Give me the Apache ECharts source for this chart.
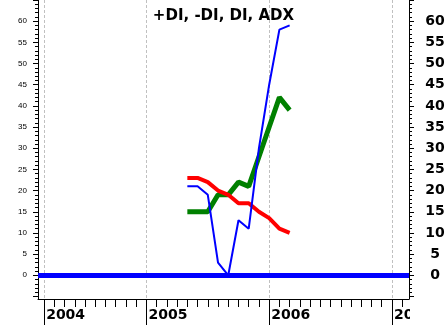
<!DOCTYPE html>
<html><head><meta charset="utf-8">
<script src="https://cdn.jsdelivr.net/npm/echarts@6/dist/echarts.min.js"></script>
<style>html,body{margin:0;padding:0;background:#fff}#c{width:447px;height:325px}</style>
</head><body><div id="c"></div>
<script>
// x values: months since January 2005
const months = [4, 5, 6, 7, 8, 9, 10, 11, 12, 13, 14];
const diValues = [21, 21, 19, 3, 0, 13, 11, 30, 45, 58, 59];
const minusDiValues = [23, 23, 22, 20, 19, 17, 17, 15, 13.5, 11, 10];
const adxValues = [15, 15, 15, 19, 19, 22, 21, 28, 35, 42, 39];
const plusDiLevel = 0;

const yearTicks = [-10, 0, 12, 24];
const yearLabels = ['2004', '2005', '2006', '2007'];
const monthTicks = [];
for (let m = -10; m <= 25; m++) monthTicks.push(m);
const yMajorTicks = [-5, 0, 5, 10, 15, 20, 25, 30, 35, 40, 45, 50, 55, 60, 65];
const yLabels = [0, 5, 10, 15, 20, 25, 30, 35, 40, 45, 50, 55, 60];
const yMinorTicks = [];
for (let v = -5; v <= 65; v++) yMinorTicks.push(v);

const X_MIN = -10.6, X_MAX = 25.67, Y_MIN = -5.6, Y_MAX = 65;

const zip = (xs, ys) => xs.map((x, i) => [x, ys[i]]);
const black = '#000';

const chart = echarts.init(document.getElementById('c'), null, {renderer: 'canvas'});
chart.setOption({
  animation: false,
  backgroundColor: '#fff',
  title: {
    text: '+DI, -DI, DI, ADX', left: 'center', top: 4,
    textStyle: {fontFamily: 'DejaVu Sans', fontWeight: 'bold', fontSize: 15, color: black}
  },
  grid: {left: 38, right: 38, top: 0, bottom: 26, outerBoundsMode: 'none'},
  xAxis: [
    {
      type: 'value', min: X_MIN, max: X_MAX, position: 'bottom',
      axisLine: {onZero: false, lineStyle: {color: black, width: 1}},
      axisTick: {customValues: monthTicks, length: 8, lineStyle: {color: black}},
      axisLabel: {show: false}, splitLine: {show: false}
    },
    {
      type: 'value', min: X_MIN, max: X_MAX, position: 'bottom',
      axisLine: {show: false, onZero: false},
      axisTick: {customValues: yearTicks, length: 26, lineStyle: {color: black}},
      axisLabel: {
        customValues: yearTicks, formatter: v => yearLabels[yearTicks.indexOf(v)],
        align: 'left', margin: 9, padding: [0, 0, 0, 2],
        fontFamily: 'DejaVu Sans', fontWeight: 'bold', fontSize: 14, color: black
      },
      splitLine: {show: true, lineStyle: {color: '#c0c0c0', width: 1, type: [3, 2]}}
    }
  ],
  yAxis: [
    {
      type: 'value', min: Y_MIN, max: Y_MAX, position: 'left',
      axisLine: {show: true, onZero: false, lineStyle: {color: black}},
      axisTick: {show: true, customValues: yMinorTicks, length: 3, lineStyle: {color: black}},
      axisLabel: {show: false}, splitLine: {show: false}
    },
    {
      type: 'value', min: Y_MIN, max: Y_MAX, position: 'left',
      axisLine: {show: false, onZero: false},
      axisTick: {show: true, customValues: yMajorTicks, length: 5, lineStyle: {color: black}},
      axisLabel: {customValues: yLabels, margin: 11, fontFamily: 'Liberation Sans', fontSize: 8, color: black},
      splitLine: {show: false}
    },
    {
      type: 'value', min: Y_MIN, max: Y_MAX, position: 'right',
      axisLine: {show: true, onZero: false, lineStyle: {color: black}},
      axisTick: {show: true, customValues: yMinorTicks, length: 3, lineStyle: {color: black}},
      axisLabel: {show: false}, splitLine: {show: false}
    },
    {
      type: 'value', min: Y_MIN, max: Y_MAX, position: 'right',
      axisLine: {show: false, onZero: false},
      axisTick: {show: true, customValues: yMajorTicks, length: 5, lineStyle: {color: black}},
      axisLabel: {customValues: yLabels, margin: 26, align: 'center',
        fontFamily: 'DejaVu Sans', fontWeight: 'bold', fontSize: 14, color: black},
      splitLine: {show: false}
    }
  ],
  series: [
    {
      name: '+DI', type: 'line', data: [], z: 1,
      markLine: {
        silent: true, symbol: 'none', label: {show: false},
        lineStyle: {color: '#0000ff', width: 5, type: 'solid'},
        data: [{yAxis: plusDiLevel}]
      }
    },
    {
      name: 'ADX', type: 'line', data: zip(months, adxValues), showSymbol: false, z: 2,
      lineStyle: {color: '#008000', width: 5}, itemStyle: {color: '#008000'}
    },
    {
      name: '-DI', type: 'line', data: zip(months, minusDiValues), showSymbol: false, z: 3,
      lineStyle: {color: '#ff0000', width: 4}, itemStyle: {color: '#ff0000'}
    },
    {
      name: 'DI', type: 'line', data: zip(months, diValues), showSymbol: false, z: 4,
      lineStyle: {color: '#0000ff', width: 2}, itemStyle: {color: '#0000ff'}
    }
  ],
  graphic: [{
    type: 'rect', z: 100, shape: {x: 410, y: 301, width: 37, height: 24},
    style: {fill: '#fff'}
  }]
});
</script>
</body></html>
